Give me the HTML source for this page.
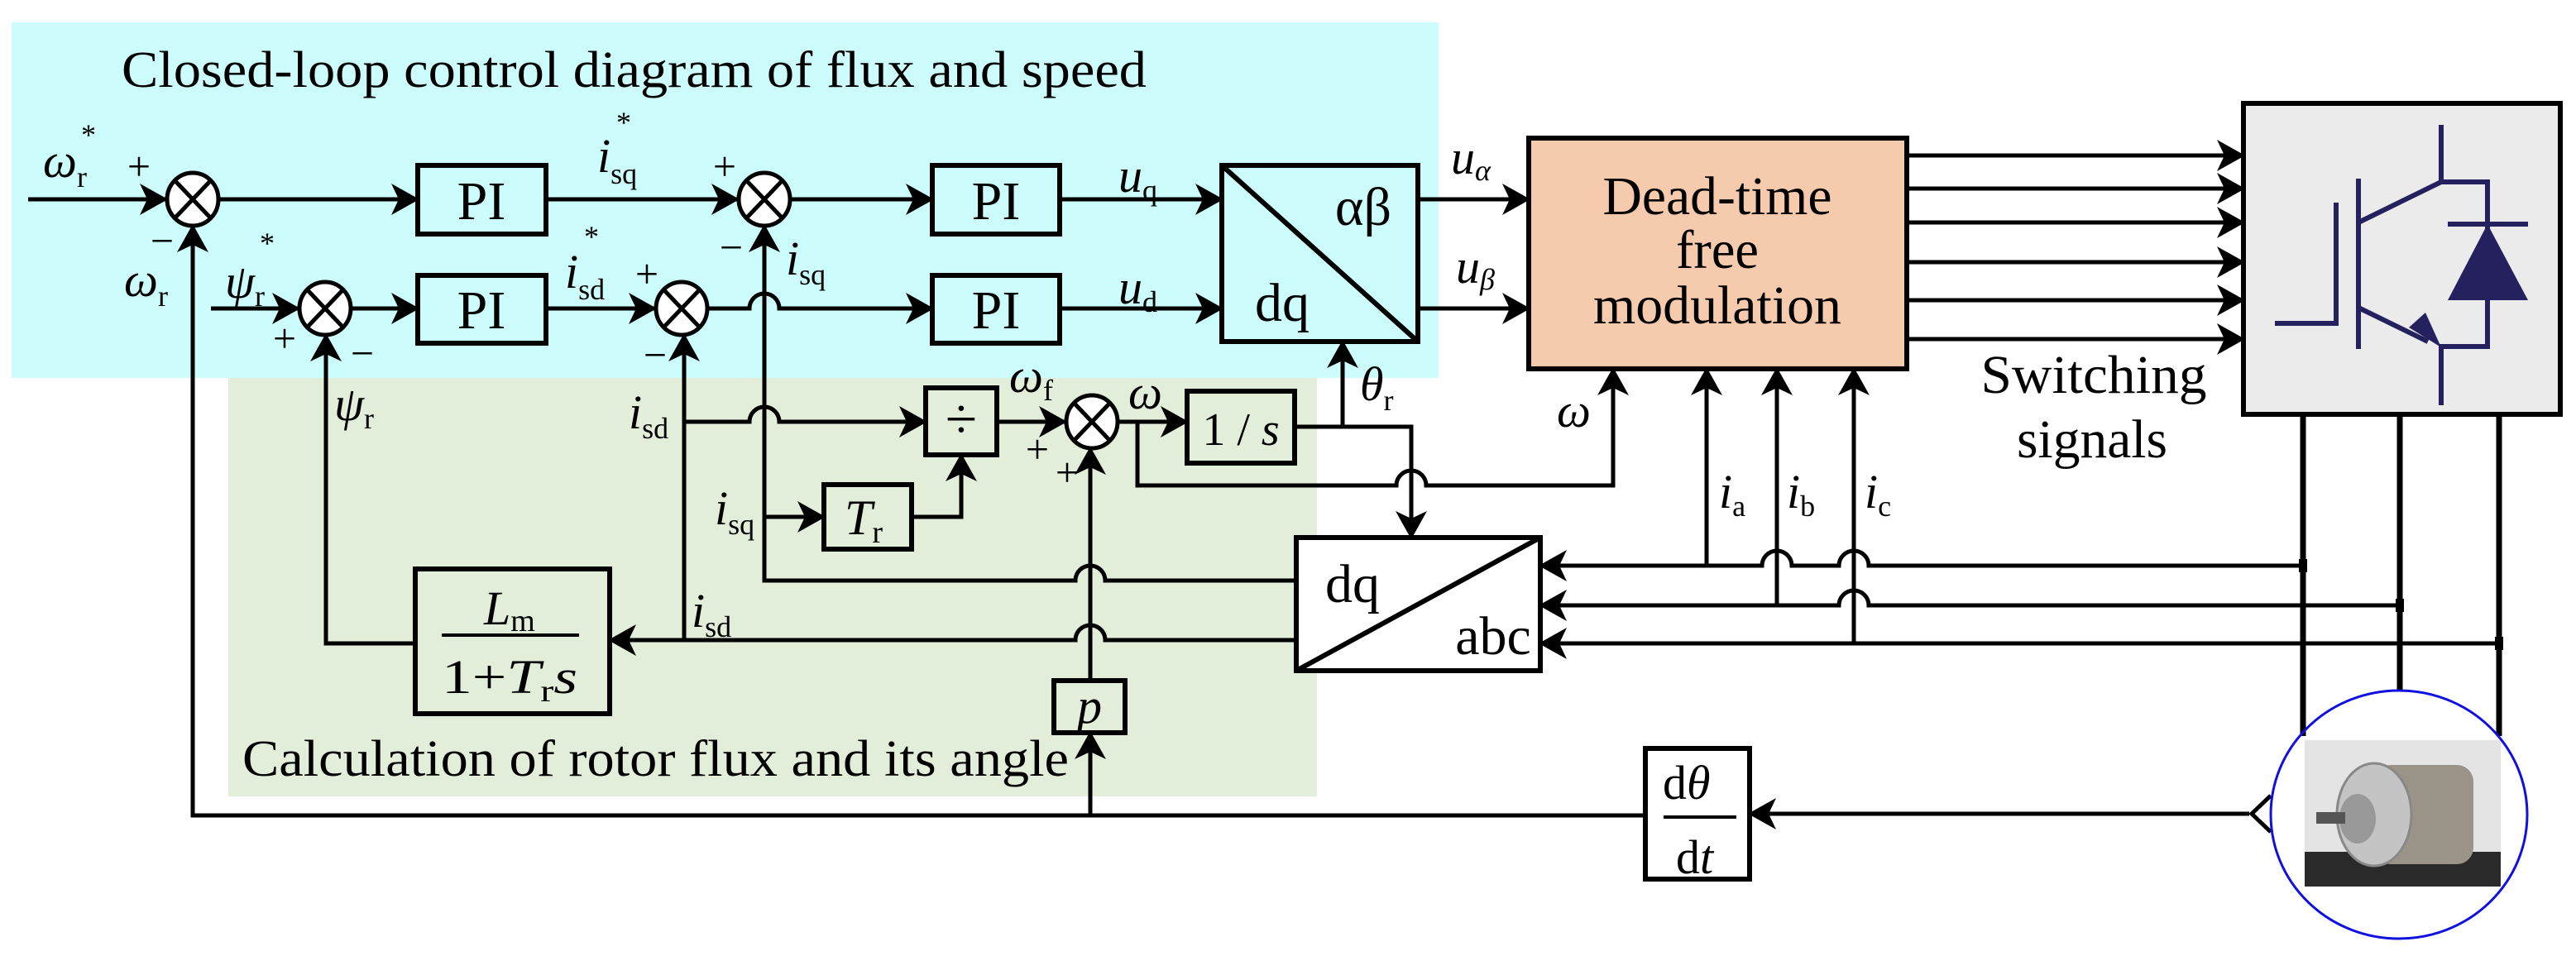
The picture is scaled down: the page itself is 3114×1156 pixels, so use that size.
<!DOCTYPE html>
<html><head><meta charset="utf-8"><style>html,body{margin:0;padding:0;background:#fff}svg{display:block}svg text{font-family:"Liberation Serif","DejaVu Serif",serif}</style></head>
<body>
<svg xmlns="http://www.w3.org/2000/svg" width="3114" height="1156" viewBox="0 0 3114 1156" style="font-family:'Liberation Serif','DejaVu Serif',serif">
<defs>
<marker id="a" markerWidth="34" markerHeight="38" refX="32" refY="19" orient="auto" markerUnits="userSpaceOnUse"><path d="M0,0 L34,19 L0,38 L9,19 z" fill="#000"/></marker>
</defs>
<rect x="0" y="0" width="3114" height="1156" fill="#fff"/>
<rect x="14" y="27" width="1725" height="430" fill="#ccfcfc"/>
<rect x="276" y="457" width="1316" height="506" fill="#e2eed9"/>

<text x="147" y="105" font-size="62" textLength="1239" lengthAdjust="spacingAndGlyphs">Closed-loop control diagram of flux and speed</text>
<text x="293" y="938" font-size="62" textLength="999" lengthAdjust="spacingAndGlyphs">Calculation of rotor flux and its angle</text>

<g fill="none" stroke="#000" stroke-width="5">
<path d="M34,241 H201" marker-end="url(#a)"/>
<path d="M264,241 H505" marker-end="url(#a)"/>
<path d="M660,241 H892" marker-end="url(#a)"/>
<path d="M956,241 H1127" marker-end="url(#a)"/>
<path d="M1281,241 H1477" marker-end="url(#a)"/>
<path d="M255,373 H361" marker-end="url(#a)"/>
<path d="M425,373 H505" marker-end="url(#a)"/>
<path d="M660,373 H792" marker-end="url(#a)"/>
<path d="M856,373 H906 A18 18 0 0 1 942,373 H1127" marker-end="url(#a)"/>
<path d="M1281,373 H1477" marker-end="url(#a)"/>
<path d="M1714,241 H1848" marker-end="url(#a)"/>
<path d="M1714,373 H1848" marker-end="url(#a)"/>
<path d="M1989,986 H233 V273" marker-end="url(#a)"/>
<path d="M1318,986 V886" marker-end="url(#a)"/>
<path d="M1318,823 V542" marker-end="url(#a)"/>
<path d="M1567,702 H1336 A18 18 0 0 0 1300,702 H924 V273" marker-end="url(#a)"/>
<path d="M1567,774 H1336 A18 18 0 0 0 1300,774 H737" marker-end="url(#a)"/>
<path d="M827,774 V405" marker-end="url(#a)"/>
<path d="M502,778 H394 V405" marker-end="url(#a)"/>
<path d="M827,510 H906 A18 18 0 0 1 942,510 H1119" marker-end="url(#a)"/>
<path d="M924,625 H996" marker-end="url(#a)"/>
<path d="M1102,625 H1162 V550" marker-end="url(#a)"/>
<path d="M1205,510 H1288" marker-end="url(#a)"/>
<path d="M1352,510 H1435" marker-end="url(#a)"/>
<path d="M1375,510 V587 H1688 A18 18 0 0 1 1724,587 H1950 V446" marker-end="url(#a)"/>
<path d="M1565,516 H1706 V650" marker-end="url(#a)"/>
<path d="M1623,516 V413" marker-end="url(#a)"/>
<path d="M2784,684 H2259 A18 18 0 0 0 2223,684 H2166 A18 18 0 0 0 2130,684 H1862" marker-end="url(#a)"/>
<path d="M2901,732 H2259 A18 18 0 0 0 2223,732 H1862" marker-end="url(#a)"/>
<path d="M3021,778 H1862" marker-end="url(#a)"/>
<path d="M2063,684 V446" marker-end="url(#a)"/>
<path d="M2148,732 V446" marker-end="url(#a)"/>
<path d="M2241,778 V446" marker-end="url(#a)"/>
<path d="M2305,188 H2712" marker-end="url(#a)"/>
<path d="M2305,228 H2712" marker-end="url(#a)"/>
<path d="M2305,269 H2712" marker-end="url(#a)"/>
<path d="M2305,317 H2712" marker-end="url(#a)"/>
<path d="M2305,363 H2712" marker-end="url(#a)"/>
<path d="M2305,410 H2712" marker-end="url(#a)"/>
<path d="M2719,984 H2115" marker-end="url(#a)"/>
<path d="M2745,962 L2722,984 L2745,1006"/>
</g>
<g stroke="#000" stroke-width="7">
<path d="M2784,501 V890 M2901,501 V834 M3021,501 V890"/>
</g>
<g fill="#000"><rect x="2779" y="676" width="10" height="16"/><rect x="2896" y="724" width="10" height="16"/><rect x="3016" y="770" width="10" height="16"/></g>

<g stroke="#000" stroke-width="5" fill="#fff">
<g transform="translate(233,241)"><ellipse rx="31" ry="32"/><path d="M-22,-23 L22,23 M22,-23 L-22,23"/></g>
<g transform="translate(924,241)"><ellipse rx="31" ry="32"/><path d="M-22,-23 L22,23 M22,-23 L-22,23"/></g>
<g transform="translate(393,373)"><ellipse rx="31" ry="32"/><path d="M-22,-23 L22,23 M22,-23 L-22,23"/></g>
<g transform="translate(824,373)"><ellipse rx="31" ry="32"/><path d="M-22,-23 L22,23 M22,-23 L-22,23"/></g>
<g transform="translate(1320,510)"><ellipse rx="31" ry="32"/><path d="M-22,-23 L22,23 M22,-23 L-22,23"/></g>
</g>

<g stroke="#000" stroke-width="6" fill="none">
<rect x="505" y="200" width="155" height="83"/>
<rect x="1127" y="200" width="154" height="83"/>
<rect x="505" y="333" width="155" height="82"/>
<rect x="1127" y="333" width="154" height="82"/>
<rect x="1477" y="200" width="237" height="213"/><path d="M1477,200 L1714,413"/>
<rect x="996" y="586" width="106" height="78"/>
<rect x="1119" y="469" width="86" height="81"/>
<rect x="1435" y="473" width="130" height="87"/>
<rect x="502" y="688" width="235" height="175"/>
<rect x="1274" y="823" width="86" height="63"/>
<rect x="1567" y="650" width="295" height="161" fill="#fff"/><path d="M1567,811 L1862,650"/>
<rect x="1848" y="167" width="457" height="279" fill="#f6caac"/>
<rect x="1989" y="905" width="126" height="158" fill="#fff"/>
<rect x="2712" y="125" width="383" height="376" fill="#ebebeb"/>
</g>

<g stroke="#25215e" stroke-width="6" fill="none">
<path d="M2750,391 H2824 V245"/>
<path d="M2851,216 V422"/>
<path d="M2851,269 L2951,220 V151"/>
<path d="M2951,220 H3007 V419 H2951 V490"/>
<path d="M2851,372 L2935,413"/>
<path d="M2959,271 H3056"/>
</g>
<g fill="#25215e"><path d="M2951,420 L2912,396 L2932,378 z"/><path d="M3007,271 L3056,363 L2959,363 z"/></g>

<rect x="2786" y="895" width="237" height="177" fill="#e4e4e4"/>
<rect x="2786" y="1030" width="237" height="42" fill="#2a2a2a"/>
<rect x="2870" y="925" width="120" height="120" rx="20" fill="#9a9488"/>
<ellipse cx="2870" cy="985" rx="45" ry="62" fill="#c4c4c4" stroke="#888" stroke-width="3"/>
<ellipse cx="2850" cy="990" rx="22" ry="30" fill="#999"/>
<rect x="2800" y="982" width="35" height="14" fill="#555"/>
<ellipse cx="2900" cy="985" rx="155" ry="150" fill="none" stroke="#1010e0" stroke-width="3"/>

<g font-size="66" text-anchor="middle">
<text x="582" y="265">PI</text><text x="1204" y="265">PI</text>
<text x="582" y="397">PI</text><text x="1204" y="397">PI</text>
<text x="1648" y="272">αβ</text><text x="1550" y="388">dq</text>
<text x="1635" y="728">dq</text><text x="1805" y="791">abc</text>
<text x="1162" y="530" font-size="70">÷</text>
<text x="1500" y="538" font-size="56">1 / <tspan font-style="italic">s</tspan></text>
<text x="1044" y="646" font-style="italic" font-size="60">T<tspan font-style="normal" font-size="38" dy="10">r</tspan></text>
<text x="1317" y="874" font-style="italic" font-size="60">p</text>
<text x="2076" y="259" textLength="277" lengthAdjust="spacingAndGlyphs">Dead-time</text>
<text x="2076" y="324" textLength="100" lengthAdjust="spacingAndGlyphs">free</text>
<text x="2076" y="391" textLength="300" lengthAdjust="spacingAndGlyphs">modulation</text>
<text x="2531" y="475" textLength="273" lengthAdjust="spacingAndGlyphs">Switching</text>
<text x="2529" y="553" textLength="182" lengthAdjust="spacingAndGlyphs">signals</text>
</g>
<path d="M534,768 H700 M2011,988 H2099" stroke="#000" stroke-width="4"/>
<g font-size="58">
<text x="585" y="755" font-style="italic">L<tspan font-style="normal" font-size="38" dy="8">m</tspan></text>
<text x="534" y="838" textLength="164" lengthAdjust="spacingAndGlyphs">1+<tspan font-style="italic">T</tspan><tspan font-size="38" dy="10">r</tspan><tspan font-style="italic" dy="-10">s</tspan></text>
<text x="2010" y="966">d<tspan font-style="italic">θ</tspan></text>
<text x="2026" y="1056">d<tspan font-style="italic">t</tspan></text>
</g>

<g font-size="58" font-style="italic">
<text x="52" y="214">ω<tspan font-style="normal" font-size="36" dy="12">r</tspan></text><text x="98" y="175" font-size="36" font-style="normal">*</text>
<text x="150" y="358">ω<tspan font-style="normal" font-size="36" dy="12">r</tspan></text>
<text x="272" y="360">ψ<tspan font-style="normal" font-size="36" dy="10">r</tspan></text><text x="314" y="306" font-size="36" font-style="normal">*</text>
<text x="722" y="208">i<tspan font-style="normal" font-size="36" dy="14">sq</tspan></text><text x="745" y="160" font-size="36" font-style="normal">*</text>
<text x="683" y="348">i<tspan font-style="normal" font-size="36" dy="14">sd</tspan></text><text x="706" y="298" font-size="36" font-style="normal">*</text>
<text x="950" y="332">i<tspan font-style="normal" font-size="36" dy="12">sq</tspan></text>
<text x="1352" y="232">u<tspan font-style="normal" font-size="36" dy="10">q</tspan></text>
<text x="1352" y="367">u<tspan font-style="normal" font-size="36" dy="10">d</tspan></text>
<text x="404" y="508">ψ<tspan font-style="normal" font-size="36" dy="10">r</tspan></text>
<text x="760" y="518">i<tspan font-style="normal" font-size="36" dy="12">sd</tspan></text>
<text x="864" y="634">i<tspan font-style="normal" font-size="36" dy="12">sq</tspan></text>
<text x="836" y="758">i<tspan font-style="normal" font-size="36" dy="12">sd</tspan></text>
<text x="1220" y="474">ω<tspan font-style="normal" font-size="36" dy="10">f</tspan></text>
<text x="1364" y="494">ω</text>
<text x="1644" y="484">θ<tspan font-style="normal" font-size="36" dy="12">r</tspan></text>
<text x="1754" y="210">u<tspan font-size="36" dy="8">α</tspan></text>
<text x="1760" y="342">u<tspan font-size="36" dy="8">β</tspan></text>
<text x="1882" y="516">ω</text>
<text x="2078" y="614">i<tspan font-style="normal" font-size="36" dy="10">a</tspan></text>
<text x="2160" y="614">i<tspan font-style="normal" font-size="36" dy="10">b</tspan></text>
<text x="2254" y="614">i<tspan font-style="normal" font-size="36" dy="10">c</tspan></text>
</g>
<g font-size="50" text-anchor="middle">
<text x="168" y="218">+</text><text x="196" y="308">−</text>
<text x="876" y="218">+</text><text x="884" y="316">−</text>
<text x="344" y="426">+</text><text x="438" y="444">−</text>
<text x="782" y="348">+</text><text x="792" y="446">−</text>
<text x="1254" y="560">+</text><text x="1290" y="588">+</text>
</g>
</svg>
</body></html>
